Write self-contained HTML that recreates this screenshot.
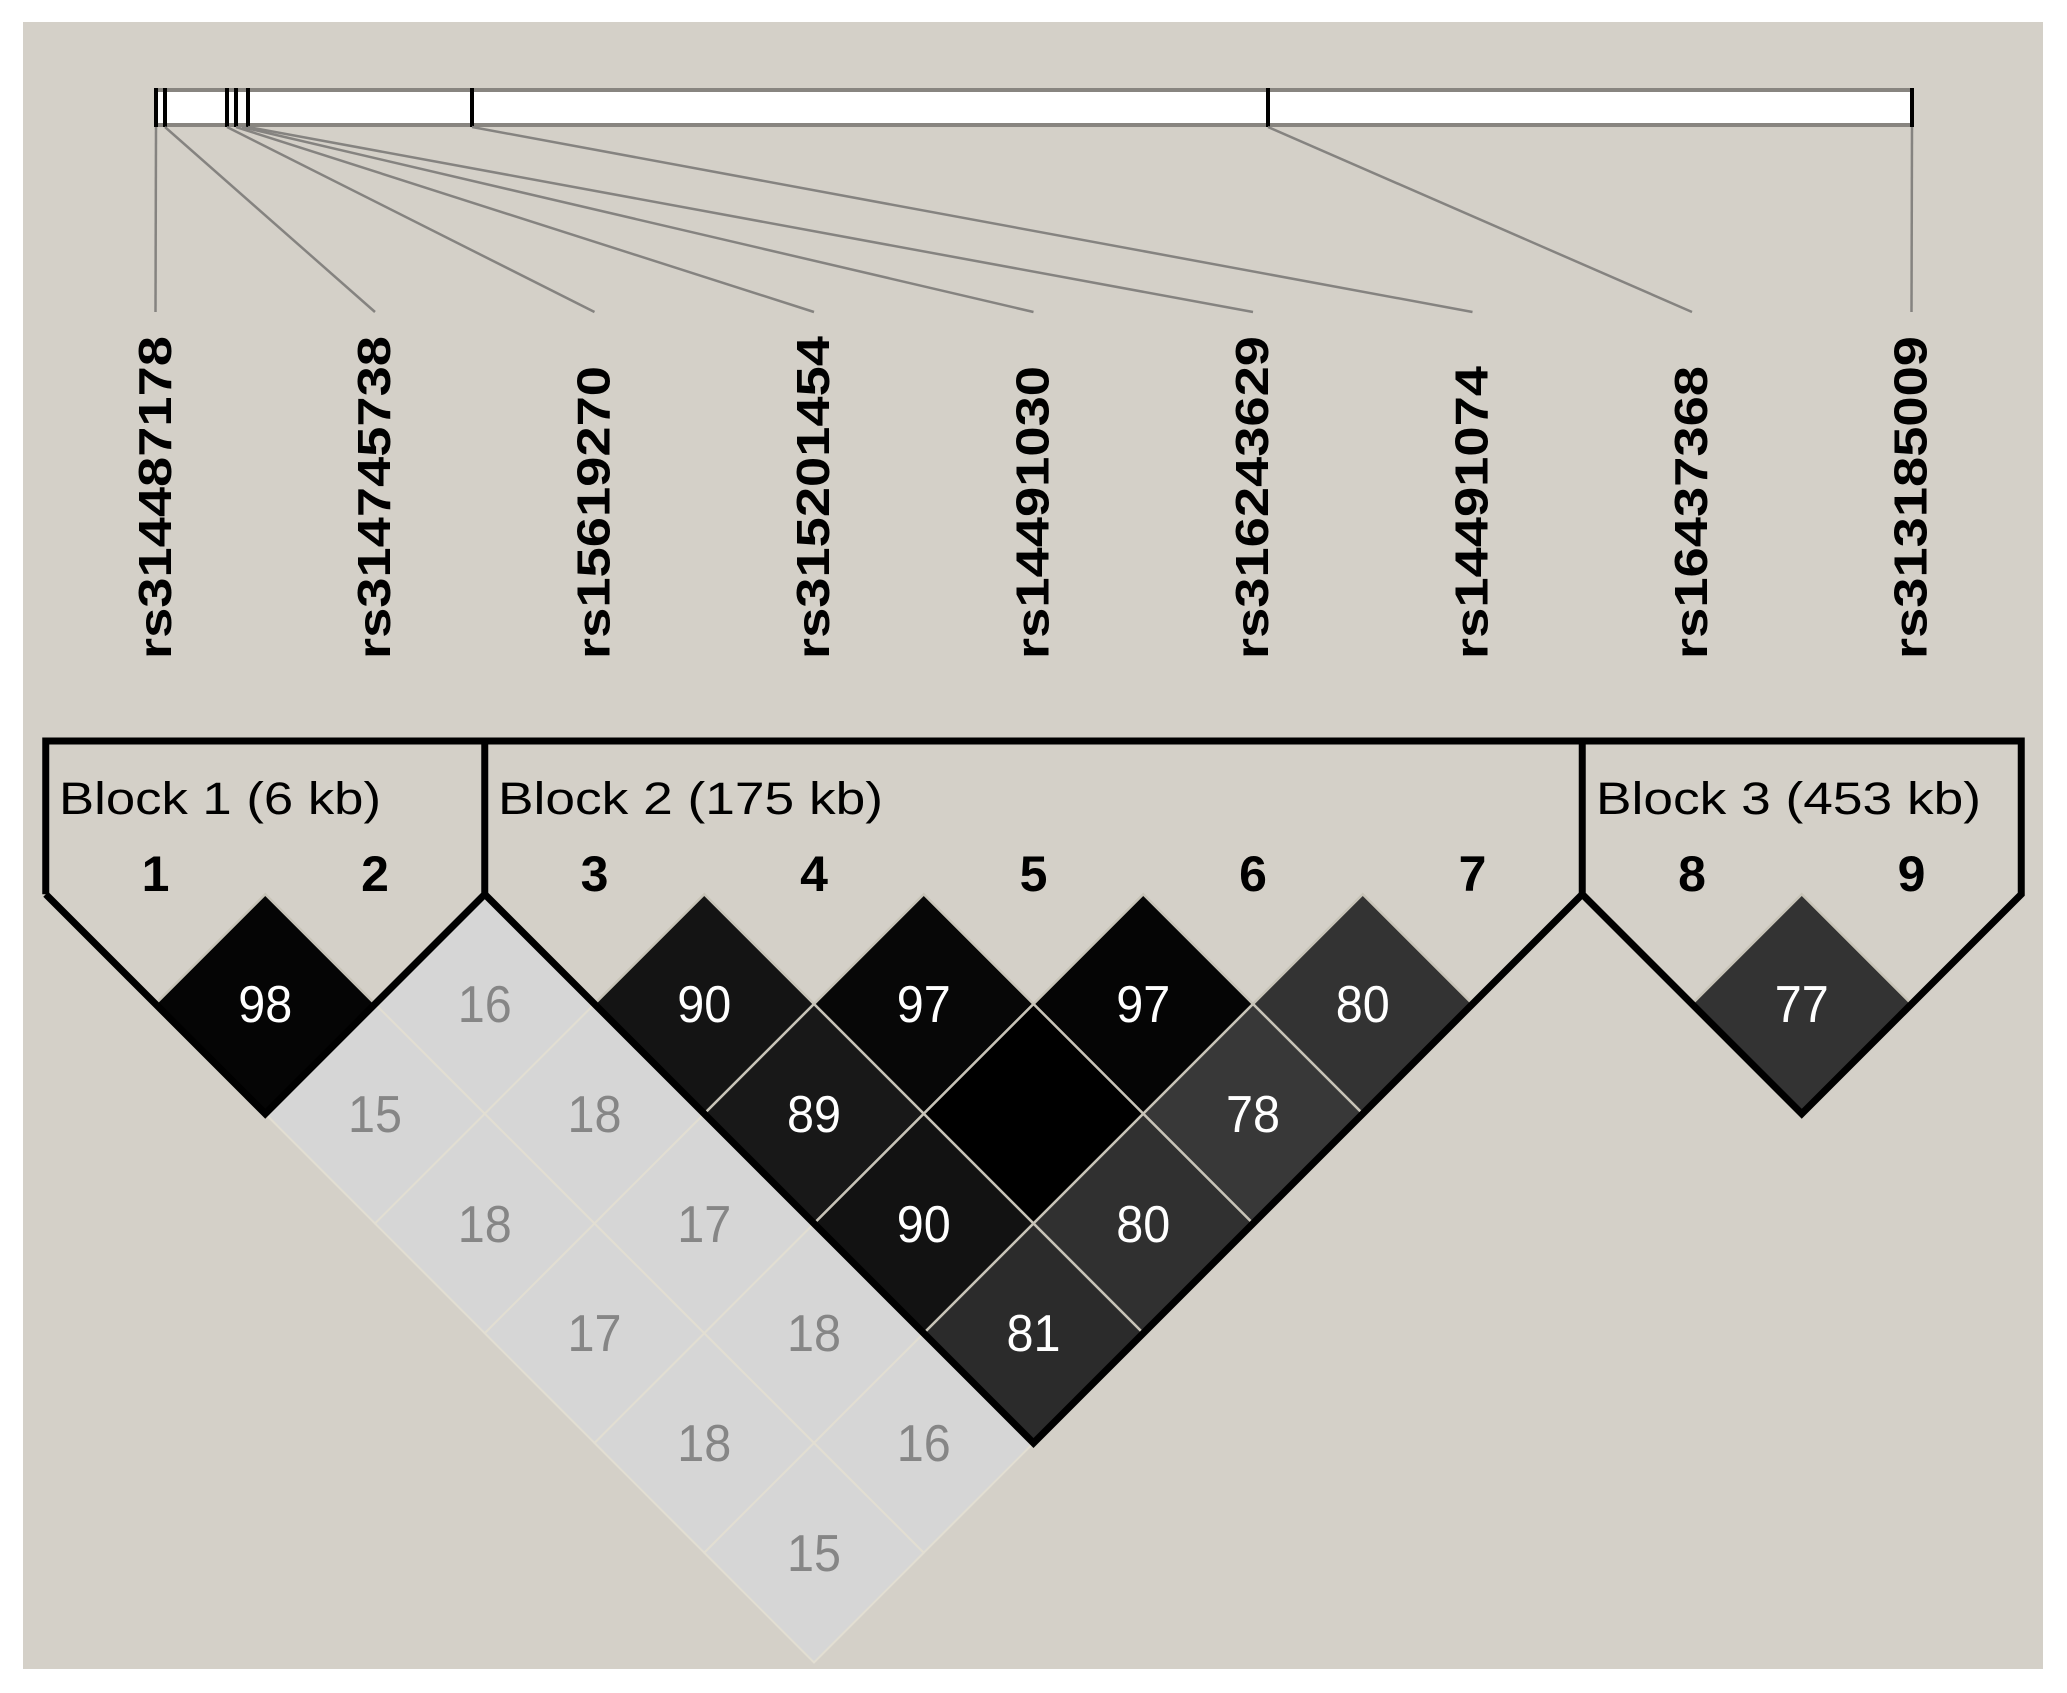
<!DOCTYPE html>
<html><head><meta charset="utf-8"><style>
html,body{margin:0;padding:0;background:#fff;}
svg{display:block;}
</style></head><body>
<svg width="2067" height="1693" viewBox="0 0 2067 1693" xmlns="http://www.w3.org/2000/svg">
<rect x="0" y="0" width="2067" height="1693" fill="#ffffff"/>
<rect x="23" y="22" width="2020" height="1647" fill="#d4d0c8"/>
<!-- marker bar -->
<rect x="156" y="90" width="1756" height="35" fill="#ffffff" stroke="#888580" stroke-width="4"/>
<g stroke="#000" stroke-width="4">
<line x1="156" y1="88" x2="156" y2="127"/>
<line x1="165" y1="88" x2="165" y2="127"/>
<line x1="227" y1="88" x2="227" y2="127"/>
<line x1="236" y1="88" x2="236" y2="127"/>
<line x1="248" y1="88" x2="248" y2="127"/>
<line x1="472" y1="88" x2="472" y2="127"/>
<line x1="1268" y1="88" x2="1268" y2="127"/>
<line x1="1912" y1="88" x2="1912" y2="127"/>
</g>
<g stroke="#858380" stroke-width="2.5" fill="none">
<line x1="156" y1="127" x2="155.5" y2="312"/>
<line x1="165" y1="127" x2="375" y2="312"/>
<line x1="227" y1="127" x2="594.5" y2="312"/>
<line x1="236" y1="127" x2="814" y2="312"/>
<line x1="242" y1="127" x2="1033.5" y2="312"/>
<line x1="248" y1="127" x2="1253" y2="312"/>
<line x1="472" y1="127" x2="1472.5" y2="312"/>
<line x1="1268" y1="127" x2="1692" y2="312"/>
<line x1="1912" y1="127" x2="1911.5" y2="312"/>
</g>
<g font-family="Liberation Sans, sans-serif" font-weight="bold" font-size="46" fill="#000">
<text transform="translate(171,659) rotate(-90)" textLength="323" lengthAdjust="spacingAndGlyphs">rs314487178</text>
<text transform="translate(390,659) rotate(-90)" textLength="323" lengthAdjust="spacingAndGlyphs">rs314745738</text>
<text transform="translate(609.5,659) rotate(-90)" textLength="293" lengthAdjust="spacingAndGlyphs">rs15619270</text>
<text transform="translate(829,659) rotate(-90)" textLength="323" lengthAdjust="spacingAndGlyphs">rs315201454</text>
<text transform="translate(1048.5,659) rotate(-90)" textLength="293" lengthAdjust="spacingAndGlyphs">rs14491030</text>
<text transform="translate(1268,659) rotate(-90)" textLength="323" lengthAdjust="spacingAndGlyphs">rs316243629</text>
<text transform="translate(1487.5,659) rotate(-90)" textLength="293" lengthAdjust="spacingAndGlyphs">rs14491074</text>
<text transform="translate(1707,659) rotate(-90)" textLength="293" lengthAdjust="spacingAndGlyphs">rs16437368</text>
<text transform="translate(1926.5,659) rotate(-90)" textLength="323" lengthAdjust="spacingAndGlyphs">rs313185009</text>
</g>
<!-- light cells -->
<g fill="#d6d6d6" stroke="#e2ded2" stroke-width="2">
<polygon points="484.75,894.25 594.5,1004 484.75,1113.75 375,1004"/>
<polygon points="375,1004 484.75,1113.75 375,1223.5 265.25,1113.75"/>
<polygon points="594.5,1004 704.25,1113.75 594.5,1223.5 484.75,1113.75"/>
<polygon points="484.75,1113.75 594.5,1223.5 484.75,1333.25 375,1223.5"/>
<polygon points="704.25,1113.75 814,1223.5 704.25,1333.25 594.5,1223.5"/>
<polygon points="594.5,1223.5 704.25,1333.25 594.5,1443 484.75,1333.25"/>
<polygon points="814,1223.5 923.75,1333.25 814,1443 704.25,1333.25"/>
<polygon points="704.25,1333.25 814,1443 704.25,1552.75 594.5,1443"/>
<polygon points="923.75,1333.25 1033.5,1443 923.75,1552.75 814,1443"/>
<polygon points="814,1443 923.75,1552.75 814,1662.5 704.25,1552.75"/>
</g>
<!-- dark cells -->
<g stroke="#c8c4b8" stroke-width="2.5">
<polygon fill="#050505" points="265.25,894.25 375,1004 265.25,1113.75 155.5,1004"/>
<polygon fill="#141414" points="704.25,894.25 814,1004 704.25,1113.75 594.5,1004"/>
<polygon fill="#070707" points="923.75,894.25 1033.5,1004 923.75,1113.75 814,1004"/>
<polygon fill="#050505" points="1143.25,894.25 1253,1004 1143.25,1113.75 1033.5,1004"/>
<polygon fill="#333333" points="1362.75,894.25 1472.5,1004 1362.75,1113.75 1253,1004"/>
<polygon fill="#333333" points="1801.75,894.25 1911.5,1004 1801.75,1113.75 1692,1004"/>
<polygon fill="#181818" points="814,1004 923.75,1113.75 814,1223.5 704.25,1113.75"/>
<polygon fill="#000000" points="1033.5,1004 1143.25,1113.75 1033.5,1223.5 923.75,1113.75"/>
<polygon fill="#383838" points="1253,1004 1362.75,1113.75 1253,1223.5 1143.25,1113.75"/>
<polygon fill="#121212" points="923.75,1113.75 1033.5,1223.5 923.75,1333.25 814,1223.5"/>
<polygon fill="#303030" points="1143.25,1113.75 1253,1223.5 1143.25,1333.25 1033.5,1223.5"/>
<polygon fill="#2b2b2b" points="1033.5,1223.5 1143.25,1333.25 1033.5,1443 923.75,1333.25"/>
</g>
<!-- block outlines -->
<g fill="none" stroke="#000" stroke-width="7" stroke-linejoin="miter">
<path d="M45.75,894.25 L45.75,741 L2021.25,741 L2021.25,894.25 L1801.75,1113.75 L1582.25,894.25 L1582.25,741"/>
<path d="M45.75,894.25 L265.25,1113.75 L484.75,894.25 L484.75,741"/>
<path d="M484.75,894.25 L1033.5,1443 L1582.25,894.25"/>
</g>
<g font-family="Liberation Sans, sans-serif" font-size="45" fill="#000">
<text x="59" y="814" textLength="322" lengthAdjust="spacingAndGlyphs">Block 1 (6 kb)</text>
<text x="498" y="814" textLength="385" lengthAdjust="spacingAndGlyphs">Block 2 (175 kb)</text>
<text x="1596" y="814" textLength="385" lengthAdjust="spacingAndGlyphs">Block 3 (453 kb)</text>
</g>
<g font-family="Liberation Sans, sans-serif" font-weight="bold" font-size="50" fill="#000" text-anchor="middle">
<text x="155.5" y="891">1</text><text x="375" y="891">2</text><text x="594.5" y="891">3</text>
<text x="814" y="891">4</text><text x="1033.5" y="891">5</text><text x="1253" y="891">6</text>
<text x="1472.5" y="891">7</text><text x="1692" y="891">8</text><text x="1911.5" y="891">9</text>
</g>
<g font-family="Liberation Sans, sans-serif" font-size="52" fill="#ffffff" text-anchor="middle">
<text x="265.25" y="1022" textLength="54" lengthAdjust="spacingAndGlyphs">98</text>
<text x="704.25" y="1022" textLength="54" lengthAdjust="spacingAndGlyphs">90</text>
<text x="923.75" y="1022" textLength="54" lengthAdjust="spacingAndGlyphs">97</text>
<text x="1143.25" y="1022" textLength="54" lengthAdjust="spacingAndGlyphs">97</text>
<text x="1362.75" y="1022" textLength="54" lengthAdjust="spacingAndGlyphs">80</text>
<text x="1801.75" y="1022" textLength="54" lengthAdjust="spacingAndGlyphs">77</text>
<text x="814" y="1132" textLength="54" lengthAdjust="spacingAndGlyphs">89</text>
<text x="1253" y="1132" textLength="54" lengthAdjust="spacingAndGlyphs">78</text>
<text x="923.75" y="1242" textLength="54" lengthAdjust="spacingAndGlyphs">90</text>
<text x="1143.25" y="1242" textLength="54" lengthAdjust="spacingAndGlyphs">80</text>
<text x="1033.5" y="1351" textLength="54" lengthAdjust="spacingAndGlyphs">81</text>
</g>
<g font-family="Liberation Sans, sans-serif" font-size="52" fill="#868686" text-anchor="middle">
<text x="484.75" y="1022" textLength="54" lengthAdjust="spacingAndGlyphs">16</text>
<text x="375" y="1132" textLength="54" lengthAdjust="spacingAndGlyphs">15</text>
<text x="594.5" y="1132" textLength="54" lengthAdjust="spacingAndGlyphs">18</text>
<text x="484.75" y="1242" textLength="54" lengthAdjust="spacingAndGlyphs">18</text>
<text x="704.25" y="1242" textLength="54" lengthAdjust="spacingAndGlyphs">17</text>
<text x="594.5" y="1351" textLength="54" lengthAdjust="spacingAndGlyphs">17</text>
<text x="814" y="1351" textLength="54" lengthAdjust="spacingAndGlyphs">18</text>
<text x="704.25" y="1461" textLength="54" lengthAdjust="spacingAndGlyphs">18</text>
<text x="923.75" y="1461" textLength="54" lengthAdjust="spacingAndGlyphs">16</text>
<text x="814" y="1571" textLength="54" lengthAdjust="spacingAndGlyphs">15</text>
</g>
</svg>
</body></html>
